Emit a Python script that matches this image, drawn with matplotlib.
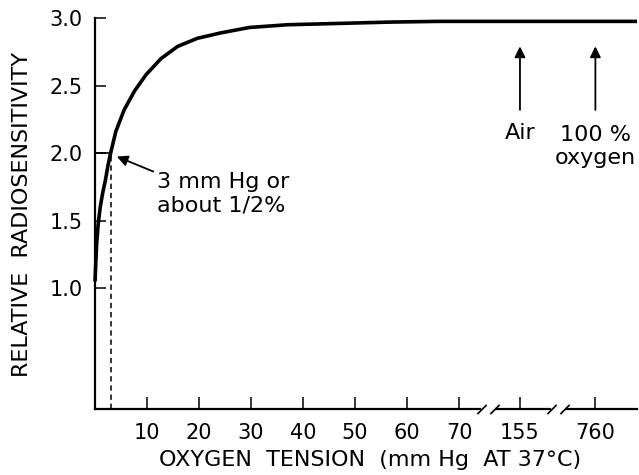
import numpy as np
import matplotlib.pyplot as plt
from matplotlib.path import Path

plt.rcParams['font.family'] = ['DejaVu Sans']

# oxygen tension (mm Hg) and relative radiosensitivity
oxygen = [0, 0.3, 0.6, 1.0, 1.5, 2.0, 2.5, 3.0, 4.0, 5.6, 7.6, 9.8, 12.7, 15.9,
          19.7, 24.2, 29.7, 37, 47, 57, 66, 100, 155, 400, 760, 1000]
sensitivity = [1.05, 1.32, 1.47, 1.60, 1.71, 1.80, 1.91, 2.0, 2.16, 2.32, 2.46,
               2.58, 2.70, 2.79, 2.85, 2.89, 2.93, 2.95, 2.96, 2.97, 2.975,
               2.975, 2.975, 2.975, 2.975, 2.975]

x_ticks = [10, 20, 30, 40, 50, 60, 70, 155, 760]
x_labels = ['10', '20', '30', '40', '50', '60', '70', '155', '760']
y_ticks = [1.0, 1.5, 2.0, 2.5, 3.0]
y_labels = ['1.0', '1.5', '2.0', '2.5', '3.0']

# broken axis: real mm Hg -> position along the axis
real_knots = [0, 70, 155, 760, 1000]
pos_knots = [0, 70, 81.7, 96.2, 104.2]
breaks = [111, 460]

half_point = 3.0  # mm Hg where sensitivity is 2.0


def forward(x):
    return np.interp(x, real_knots, pos_knots)


def inverse(p):
    return np.interp(p, pos_knots, real_knots)


fig = plt.figure(figsize=(6.39, 4.75), dpi=100)
ax = fig.add_axes([95 / 639, 66 / 475, 542 / 639, 391 / 475])
ax.set_xscale('function', functions=(forward, inverse))
ax.set_xlim(0, 1000)
ax.set_ylim(0.107, 3.0)

ax.plot(oxygen, sensitivity, color='black', lw=2.6, clip_on=False,
        solid_capstyle='butt', zorder=3)

# reference lines at the 3 mm Hg point
ax.plot([0, half_point], [2.0, 2.0], color='black', lw=1.2)
ax.plot([half_point, half_point], [0.107, 2.0], color='black', lw=1.1,
        ls=(0, (3.5, 2.5)))

for side in ['top', 'right']:
    ax.spines[side].set_visible(False)
for side in ['left', 'bottom']:
    ax.spines[side].set_linewidth(1.6)

ax.set_xticks(x_ticks)
ax.set_xticklabels(x_labels)
ax.set_yticks(y_ticks)
ax.set_yticklabels(y_labels)
ax.tick_params(axis='x', direction='in', length=9, width=1.1, pad=10,
               labelsize=15)
ax.tick_params(axis='y', direction='in', length=8, width=1.1, pad=9,
               labelsize=15)
ax.minorticks_off()

# axis break marks
slash = Path([(-2.4, -1), (-0.4, 1), (0.4, -1), (2.4, 1)],
             [Path.MOVETO, Path.LINETO, Path.MOVETO, Path.LINETO])
gap = Path([(-1.2, 0), (1.2, 0)], [Path.MOVETO, Path.LINETO])
xt = ax.get_xaxis_transform()
for b in breaks:
    ax.plot(b, 0, transform=xt, marker=gap, ms=10, mew=3, color='white',
            clip_on=False, zorder=4)
    ax.plot(b, 0, transform=xt, marker=slash, ms=16, mew=1.2, color='black',
            clip_on=False, zorder=5)

ax.annotate('', xy=(4.2, 1.975), xytext=(11.2, 1.864),
            arrowprops=dict(arrowstyle='-|>', color='black', lw=1.3,
                            mutation_scale=16, shrinkA=0, shrinkB=0))
ax.text(11.9, 1.70, '3 mm Hg or\nabout 1/2%', ha='left', va='center',
        fontsize=16, linespacing=1.2)

for xa in [155, 760]:
    ax.annotate('', xy=(xa, 2.79), xytext=(xa, 2.32),
                arrowprops=dict(arrowstyle='-|>', color='black', lw=1.3,
                                mutation_scale=16, shrinkA=0, shrinkB=0),
                annotation_clip=False)
ax.text(155, 2.15, 'Air', ha='center', va='center', fontsize=16)
ax.text(760, 2.05, '100 %\noxygen', ha='center', va='center', fontsize=16,
        linespacing=1.2, clip_on=False)

fig.text(370 / 639, 1 - 460 / 475, 'OXYGEN  TENSION  (mm Hg  AT 37°C)',
         ha='center', va='center', fontsize=16)
fig.text(22 / 639, 1 - 214 / 475, 'RELATIVE  RADIOSENSITIVITY',
         ha='center', va='center', rotation=90, fontsize=16)

fig.savefig('out.png', dpi=100)
